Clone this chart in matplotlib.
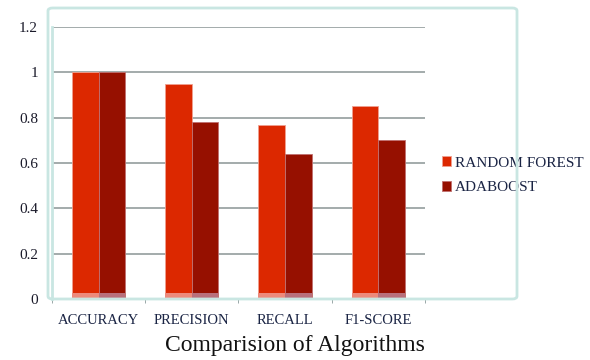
import numpy as np
import matplotlib.pyplot as plt
from matplotlib.patches import FancyBboxPatch

# Data
categories = ['ACCURACY', 'PRECISION', 'RECALL', 'F1-SCORE']
random_forest = [1.0, 0.95, 0.77, 0.85]
adaboost = [1.0, 0.78, 0.64, 0.70]
yticks = [0, 0.2, 0.4, 0.6, 0.8, 1, 1.2]

plt.rcParams['font.family'] = ['Liberation Serif', 'DejaVu Serif']

fig = plt.figure(figsize=(5.9, 3.6), dpi=100)
ax = fig.add_axes([0.088, 0.169, 0.632, 0.756])

# Rounded frame around the chart area
frame = FancyBboxPatch((48/590, 1 - 299/360), (517 - 48)/590, (299 - 8)/360,
                       boxstyle='round,pad=0,rounding_size=0.008',
                       transform=fig.transFigure, fill=False,
                       edgecolor='#c9e6e2', lw=2.0, zorder=0)
fig.patches.append(frame)

x = np.arange(len(categories))
w = 0.285
ax.bar(x - w/2, random_forest, w, color='#dc2800', edgecolor='#f0a090', lw=0.6, zorder=3,
       label='RANDOM FOREST')
ax.bar(x + w/2, adaboost, w, color='#961000', edgecolor='#c07070', lw=0.6, zorder=3,
       label='ADABOOST')
# light strip at the base of each bar
ax.bar(x - w/2, [0.025]*len(x), w, color='#ec8a7c', lw=0, zorder=4)
ax.bar(x + w/2, [0.025]*len(x), w, color='#b8707c', lw=0, zorder=4)

ax.set_xlim(-0.5, len(categories) - 0.5)
ax.set_ylim(0, 1.2)
ax.set_yticks(yticks)
ax.set_yticklabels(['%g' % v for v in yticks])
ax.yaxis.grid(True, color='#a3abab', lw=1.4, zorder=0)
ax.tick_params(axis='y', length=0, pad=10, labelsize=11, labelcolor='#1a1a2a')

ax.set_xticks(x)
ax.set_xticklabels(categories)
ax.set_xticks(np.arange(len(categories) + 1) - 0.5, minor=True)
ax.tick_params(axis='x', which='major', length=0, pad=11, labelsize=10.5, labelcolor='#1a2444')
ax.tick_params(axis='x', which='minor', length=3, color='#8a9a9a', direction='out')

for s in ['top', 'right']:
    ax.spines[s].set_visible(False)
ax.spines['left'].set_color('#c9e6e2')
ax.spines['left'].set_linewidth(2.0)
ax.spines['bottom'].set_color('#a8c8c4')
ax.spines['bottom'].set_linewidth(1.2)

ax.legend(loc='center left', bbox_to_anchor=(1.01, 0.455), frameon=False,
          fontsize=11, handlelength=0.6, handleheight=0.6, handletextpad=0.2,
          labelspacing=0.75, labelcolor='#1a2444')

fig.text(0.5, 1 - 346/360, 'Comparision of Algorithms', ha='center', va='center',
         fontsize=17, color='#111111')

fig.savefig('out.png', dpi=100)
